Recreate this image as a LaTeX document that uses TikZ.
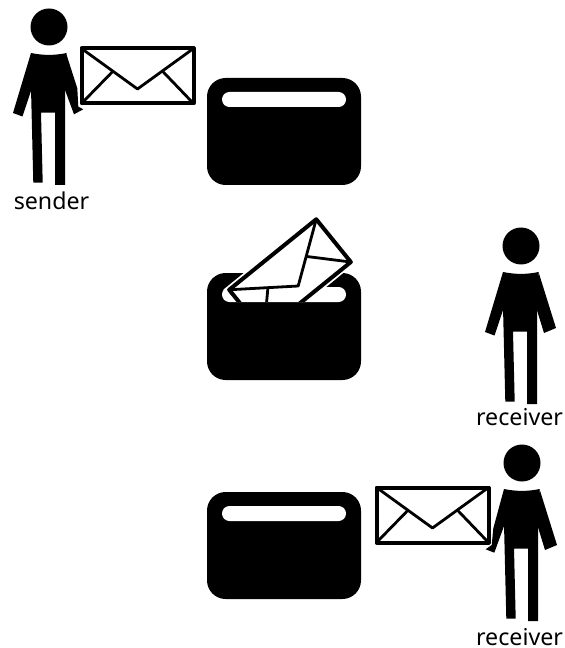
\documentclass[tikz,border=0pt]{standalone}
\usepackage{fontspec}
\setmainfont{Noto Sans}
\usetikzlibrary{positioning}
\tikzset{
  person/.pic={
    \fill (0,0) circle (18.5);
    \fill (-18,26) .. controls (-6,28.5) and (6,28.5) .. (17.5,26) -- (16,61) -- (16,158) -- (6,158) -- (6,85.7)
      -- (-8,85.7) -- (-6.3,155.7) -- (-15.7,155.7) -- (-18,61) -- cycle;
  },
  armleft/.pic={\fill (-18,26) -- (-36,86) -- (-26.5,89.5) -- (-17,61) -- cycle;},
  armright/.pic={\fill (17.5,26) -- (35,82) -- (23,87) -- (15,61) -- cycle;},
  handright/.pic={\fill (17,26) -- (28.3,61.3) -- (29.3,79.7) -- (34.3,82.3) -- (25,87.3) -- (15,60.3) -- cycle;},
  handleft/.pic={\fill (-18,26) -- (-28.7,65.3) -- (-30.3,82) -- (-36.3,86.3) -- (-27.7,89.7) -- (-17,60.3) -- cycle;},
  % origin at the middle of the envelope
  envelope/.pic={
    \draw[line width=3pt, line join=round, fill=white] (-56,-27.5) rectangle (56,27.5);
    \draw[line width=2.1pt, line join=round] (-56,-27.5) -- (0,13) -- (56,-27.5);
    \draw[line width=2.1pt] (-56,27.5) -- (-24.5,-4.8);
    \draw[line width=2.1pt] (56,27.5) -- (25,-4.8);
  },
  wallet/.pic={
    \fill[rounded corners=14pt] (-77,-53.5) rectangle (77,53.5);
    \fill[white, rounded corners=5.6pt] (-62,-39.5) rectangle (62,-24.5);
  },
}
\begin{document}
\begin{tikzpicture}[x=0.75pt, y=-0.75pt,
    lbl/.style={font=\fontsize{17.4}{20}\selectfont, inner sep=0pt, anchor=base}]
  \useasboundingbox (0,0) rectangle (564,648);
  % first row
  \pic at (49,27) {person};
  \pic at (49,27) {armleft};
  \pic at (49,27) {handright};
  \pic at (137.5,76) {envelope};
  \pic at (284,131.5) {wallet};
  \node[lbl] (sender) at (51.5,210) {sender};
  % second row
  \pic at (284,326.5) {wallet};
  \begin{scope}
    \clip (200,200) rectangle (370,301.5);
    \draw[white, line width=6pt, line join=miter] (229.3,290) -- (315,220) -- (350.7,261.7) -- (265,332) -- cycle;
    \pic[rotate=39] at (290,275.9) {envelope};
  \end{scope}
  \pic at (521,246) {person};
  \pic at (521,246) {armleft};
  \pic at (521,246) {armright};
  \node[lbl] (receiverb) at (519.5,425.5) {receiver};
  % third row
  \pic at (284,545.5) {wallet};
  \pic at (432.5,515) {envelope};
  \pic at (522,463) {person};
  \pic at (522,463) {handleft};
  \pic at (522,463) {armright};
  \node[lbl] (receiverc) at (519.5,645) {receiver};
\end{tikzpicture}
\end{document}
